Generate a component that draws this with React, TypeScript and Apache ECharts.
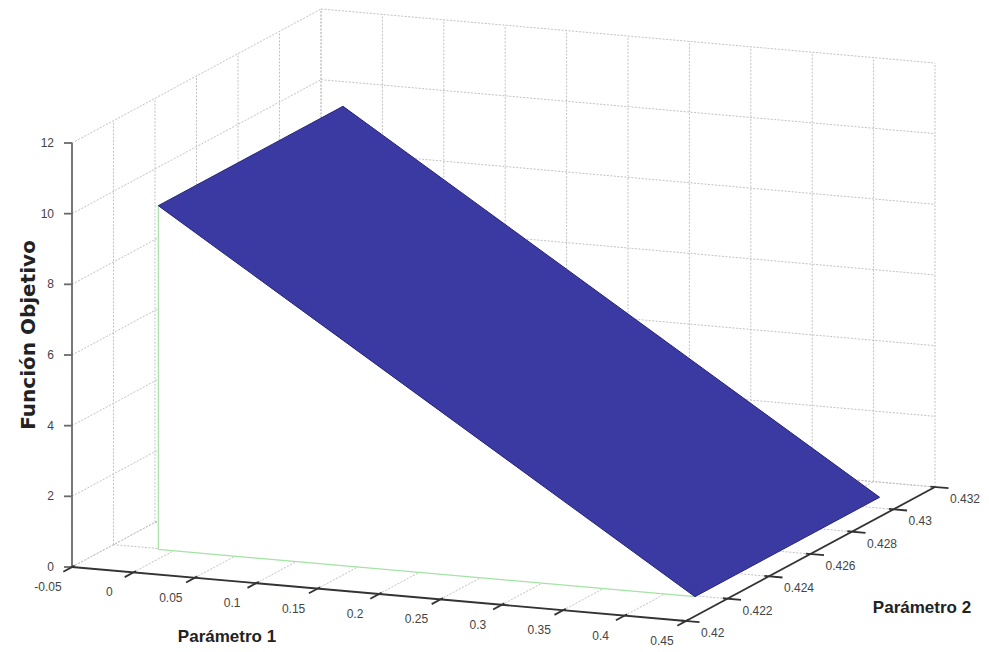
import React, { useEffect, useRef } from "react";
import * as echarts from "echarts";

// ---- tick values and labels ----
const param1Ticks = [-0.05, 0, 0.05, 0.1, 0.15, 0.2, 0.25, 0.3, 0.35, 0.4, 0.45];
const param1Labels = ["-0.05", "0", "0.05", "0.1", "0.15", "0.2", "0.25", "0.3", "0.35", "0.4", "0.45"];
const param2Ticks = [0.42, 0.422, 0.424, 0.426, 0.428, 0.43, 0.432];
const param2Labels = ["0.42", "0.422", "0.424", "0.426", "0.428", "0.43", "0.432"];
const zTicks = [0, 2, 4, 6, 8, 10, 12];
const zLabels = ["0", "2", "4", "6", "8", "10", "12"];

// ---- surface grid ----
const surfParam1 = [0, 0.437];
const surfParam2 = [0.4212, 0.4301];
// rows follow surfParam1, columns follow surfParam2
const surfZ = [
  [10.0, 10.0],
  [0.27, 0.27],
];

// ---- titles ----
const xTitle = "Parámetro 1";
const yTitle = "Parámetro 2";
const zTitle = "Función Objetivo";

// ---- view / projection (layout only) ----
const VIEW = {
  origin: [72, 567],
  vx: [614, 54],
  vy: [249, -134],
  vz: [0, -424],
};

const X0 = param1Ticks[0];
const X1 = param1Ticks[param1Ticks.length - 1];
const Y0 = param2Ticks[0];
const Y1 = param2Ticks[param2Ticks.length - 1];
const Z0 = zTicks[0];
const Z1 = zTicks[zTicks.length - 1];

function project(x: number, y: number, z: number): [number, number] {
  const tx = (x - X0) / (X1 - X0);
  const ty = (y - Y0) / (Y1 - Y0);
  const tz = (z - Z0) / (Z1 - Z0);
  return [
    VIEW.origin[0] + tx * VIEW.vx[0] + ty * VIEW.vy[0] + tz * VIEW.vz[0],
    VIEW.origin[1] + tx * VIEW.vx[1] + ty * VIEW.vy[1] + tz * VIEW.vz[1],
  ];
}

const TICK_FONT = "'Liberation Sans Narrow', 'Liberation Sans', Arial, sans-serif";

function line(a: [number, number], b: [number, number], style: any, z = 0) {
  return {
    type: "line",
    z,
    silent: true,
    shape: { x1: a[0], y1: a[1], x2: b[0], y2: b[1] },
    style,
  };
}

function text(x: number, y: number, str: string, opts: any, z = 20, rotation = 0) {
  return {
    type: "text",
    x,
    y,
    z,
    rotation,
    silent: true,
    style: {
      text: str,
      fill: opts.fill || "#333",
      fontSize: opts.fontSize || 12,
      fontFamily: opts.fontFamily || TICK_FONT,
      fontWeight: opts.fontWeight || "normal",
      align: opts.align || "center",
      textAlign: opts.align || "center",
      verticalAlign: "middle",
      textVerticalAlign: "middle",
    },
  };
}

function buildGraphics() {
  const els: any[] = [];
  const grid = { stroke: "#c2c2c2", lineWidth: 1, lineDash: [2, 1.5] };

  // back wall (param2 = max)
  param1Ticks.forEach((x) => els.push(line(project(x, Y1, Z0), project(x, Y1, Z1), grid)));
  zTicks.forEach((z) => els.push(line(project(X0, Y1, z), project(X1, Y1, z), grid)));
  // left wall (param1 = min)
  param2Ticks.forEach((y) => els.push(line(project(X0, y, Z0), project(X0, y, Z1), grid)));
  zTicks.forEach((z) => els.push(line(project(X0, Y0, z), project(X0, Y1, z), grid)));
  // floor
  param1Ticks.forEach((x) => els.push(line(project(x, Y0, Z0), project(x, Y1, Z0), grid)));
  param2Ticks.forEach((y) => els.push(line(project(X0, y, Z0), project(X1, y, Z0), grid)));

  // white skirt face below the front edge of the surface, with green edges
  const xa = surfParam1[0];
  const xb = surfParam1[surfParam1.length - 1];
  const ya = surfParam2[0];
  const zTop = surfZ[0][0];
  const zLow = surfZ[surfZ.length - 1][0];
  els.push({
    type: "polygon",
    z: 2,
    silent: true,
    shape: { points: [project(xa, ya, zTop), project(xa, ya, zLow), project(xb, ya, zLow)] },
    style: { fill: "#ffffff", stroke: "none" },
  });
  const green = { stroke: "#a3e3a3", lineWidth: 1.2 };
  els.push(line(project(xa, ya, zTop), project(xa, ya, zLow), green, 3));
  els.push(line(project(xa, ya, zLow), project(xb, ya, zLow), green, 3));

  // axes
  const axisStyleZ = { stroke: "#6a6a6a", lineWidth: 1.8 };
  const axisStyle = { stroke: "#333", lineWidth: 1.8 };
  els.push(line(project(X0, Y0, Z0), project(X0, Y0, Z1), axisStyleZ, 15));
  els.push(line(project(X0, Y0, Z0), project(X1, Y0, Z0), axisStyle, 15));
  els.push(line(project(X1, Y0, Z0), project(X1, Y1, Z0), axisStyle, 15));

  // z ticks + labels
  zTicks.forEach((z, i) => {
    const p = project(X0, Y0, z);
    els.push(line([p[0] - 8, p[1]], p, axisStyleZ, 15));
    els.push(text(p[0] - 18, p[1], zLabels[i], { align: "right", fontSize: 12, fill: "#444" }));
  });
  // param1 ticks + labels
  const dy = (Y1 - Y0) * 0.035;
  param1Ticks.forEach((x, i) => {
    const a = project(x, Y0 + dy * 0.3, Z0);
    const b = project(x, Y0 - dy, Z0);
    els.push(line(a, b, axisStyle, 15));
    const p = project(x, Y0, Z0);
    els.push(text(p[0] - 24, p[1] + 20, param1Labels[i], { fontSize: 12, fill: "#444" }));
  });
  // param2 ticks + labels
  const dx = (X1 - X0) * 0.022;
  param2Ticks.forEach((y, i) => {
    const a = project(X1 - dx * 0.35, y, Z0);
    const b = project(X1 + dx, y, Z0);
    els.push(line(a, b, axisStyle, 15));
    const p = project(X1, y, Z0);
    els.push(text(p[0] + 15, p[1] + 12, param2Labels[i], { align: "left", fontSize: 12, fill: "#444" }));
  });

  // titles
  const titleFont = "'Liberation Sans Narrow', 'Liberation Sans', Arial, sans-serif";
  els.push(text(227, 636, xTitle, { fontSize: 17, fontWeight: "bold", fontFamily: titleFont, fill: "#222" }));
  els.push(text(922, 607, yTitle, { fontSize: 17, fontWeight: "bold", fontFamily: titleFont, fill: "#222" }));
  els.push(
    text(28, 335, zTitle, { fontSize: 20, fontWeight: "bold", fontFamily: "'DejaVu Sans', Verdana, sans-serif", fill: "#222" }, 20, Math.PI / 2)
  );
  return els;
}

function buildSurfaceData() {
  const cells: number[][] = [];
  for (let i = 0; i < surfParam1.length - 1; i++) {
    for (let j = 0; j < surfParam2.length - 1; j++) {
      cells.push([
        surfParam1[i], surfParam1[i + 1], surfParam2[j], surfParam2[j + 1],
        surfZ[i][j], surfZ[i][j + 1], surfZ[i + 1][j], surfZ[i + 1][j + 1],
      ]);
    }
  }
  return cells;
}

export default function App() {
  const ref = useRef<HTMLDivElement>(null);
  useEffect(() => {
    if (!ref.current) return;
    const chart = echarts.init(ref.current, undefined, { renderer: "svg" });
    chart.setOption({
      animation: false,
      backgroundColor: "#ffffff",
      graphic: { elements: buildGraphics() },
      series: [
        {
          type: "custom",
          coordinateSystem: "none",
          z: 5,
          silent: true,
          data: buildSurfaceData(),
          renderItem: (params: any, api: any) => {
            const xa = api.value(0), xb = api.value(1), ya = api.value(2), yb = api.value(3);
            const zaa = api.value(4), zab = api.value(5), zba = api.value(6), zbb = api.value(7);
            const pts = [
              project(xa, ya, zaa),
              project(xa, yb, zab),
              project(xb, yb, zbb),
              project(xb, ya, zba),
            ];
            return {
              type: "polygon",
              shape: { points: pts },
              style: { fill: "#3a3aa2", stroke: "#24247c", lineWidth: 1 },
            };
          },
        },
      ],
    });
    return () => chart.dispose();
  }, []);
  return (
    <div
      ref={ref}
      style={{ position: "fixed", left: 0, top: 0, width: 989, height: 652, background: "#fff" }}
    />
  );
}
